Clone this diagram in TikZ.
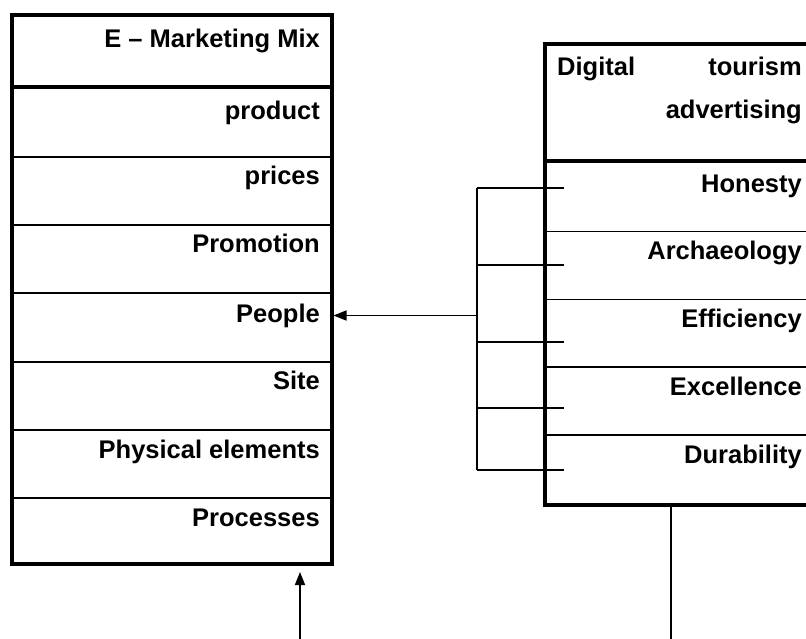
\documentclass[tikz,border=0pt]{standalone}
\usepackage{fontspec}
\setmainfont{Liberation Sans}
\usetikzlibrary{arrows.meta,calc}
\begin{document}
\begin{tikzpicture}[x=1pt,y=-1pt,
  frame/.style={draw, line width=4pt, inner sep=0pt, outer sep=0pt, anchor=north west},
  heavy/.style={line width=4pt},
  divider/.style={line width=1.7pt},
  wire/.style={line width=1.7pt},
  lbl/.style={anchor=base east, inner sep=0pt, font=\fontsize{25.5}{30}\selectfont\bfseries},
  lblw/.style={lbl, anchor=base west},
  arr/.style={wire, -{Triangle[length=13pt,width=10pt]}}]
\useasboundingbox (0,0) rectangle (806,639);

% left box
\node[frame, minimum width=319.5pt, minimum height=549pt] (L) at (12,15) {};
\draw[heavy] (L.west |- 0,87) -- (L.east |- 0,87);
\foreach \yy in {157,225,293,362,430,498}
  \draw[divider] (L.west |- 0,\yy) -- (L.east |- 0,\yy);
\node[lbl] (mix) at (320,48) {E -- Marketing Mix};
\node[lbl] (product) at (320,120) {product};
\node[lbl] (prices) at (320,185) {prices};
\node[lbl] (promotion) at (320,253) {Promotion};
\node[lbl] (people) at (320,322) {People};
\node[lbl] (site) at (320,389) {Site};
\node[lbl] (physical) at (320,458) {Physical elements};
\node[lbl] (processes) at (320,526) {Processes};

% right box
\node[frame, minimum width=275pt, minimum height=460pt] (R) at (545,44.5) {};
\draw[heavy] (R.west |- 0,161.5) -- (R.east |- 0,161.5);
\foreach \yy in {231.5,299.5,367,435}
  \draw[divider] (R.west |- 0,\yy) -- (R.east |- 0,\yy);
\node[lblw] (digital) at (557,76) {Digital};
\node[lbl] (tourism) at (802,76) {tourism};
\node[lbl] (advert) at (802,119) {advertising};
\node[lbl] (honesty) at (802,193) {Honesty};
\node[lbl] (archaeo) at (802,260) {Archaeology};
\node[lbl] (effic) at (802,327) {Efficiency};
\node[lbl] (excel) at (802,395) {Excellence};
\node[lbl] (durab) at (802,463) {Durability};

% bracket
\coordinate (bt) at (477,188);
\coordinate (bb) at (477,470);
\coordinate (bk) at (477,315.5);
\draw[wire] (bt) -- (bb);
\foreach \yy in {188,265,342,408,470}
  \draw[wire] (477,\yy) -- (564,\yy);
\draw[arr] (bk) -- ($(bk -| L.east)+(2,0)$);

% bottom connectors
\coordinate (b1) at (300,639);
\draw[arr] (b1) -- ($(b1 |- L.south)+(0,8)$);
\coordinate (b2) at (671,639);
\draw[wire] (b2 |- R.south) -- (b2);
\end{tikzpicture}
\end{document}
